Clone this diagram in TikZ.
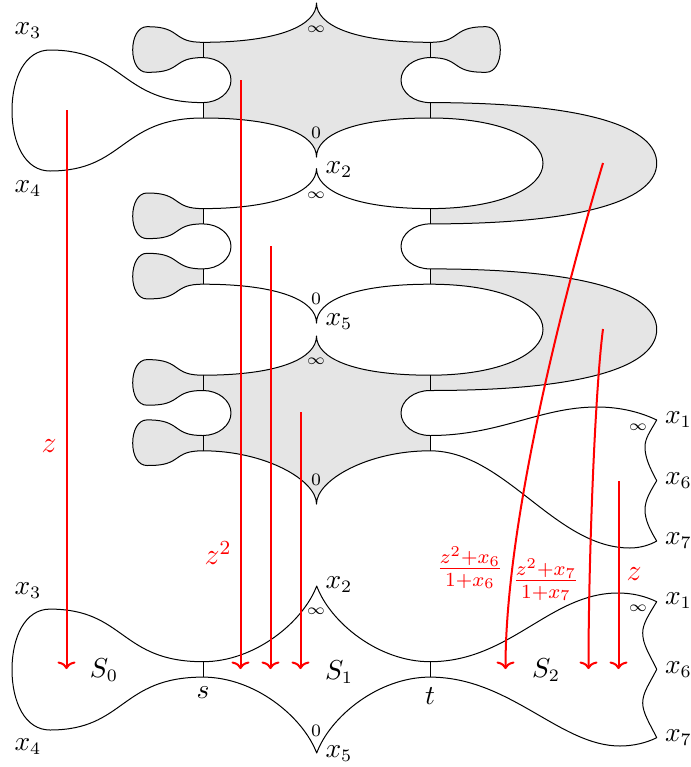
\documentclass[tikz,border=0pt]{standalone}
\usetikzlibrary{arrows.meta}
\tikzset{
  sheet/.style={draw=black,line width=0.4pt,line join=round},
  shade/.style={fill=black!10,draw=none},
  spine/.style={draw=black,line width=0.4pt},
  redline/.style={draw=red,line width=0.8pt,-{Computer Modern Rightarrow[width=7.2pt,length=3pt]}},
  lab/.style={inner sep=0pt,font=\fontsize{10.5}{13}\selectfont},
  small/.style={inner sep=0pt,font=\fontsize{7}{8}\selectfont},
  smallinf/.style={inner sep=0pt,font=\fontsize{6.5}{8}\selectfont},
  redlab/.style={inner sep=0pt,text=red,font=\fontsize{11.5}{13}\selectfont},
  blobshape/.pic={
    \path[sheet,fill=black!10] (0,0) .. controls (-15,0) and (-20,-3) .. (-27,-8)
      .. controls (-35,-14) and (-43,-15.6) .. (-56,-15.6)
      .. controls (-65,-15.6) and (-70.3,-5) .. (-70.3,7.6)
      .. controls (-70.3,20) and (-65,30) .. (-56,30)
      .. controls (-43,30) and (-35,29) .. (-27,23.3)
      .. controls (-20,18.3) and (-15,15.3) .. (0,15.3);
    \draw[spine] (0,0) -- (0,15.3);
  }
}
\begin{document}
\begin{tikzpicture}[x=0.4pt,y=-0.4pt]
\useasboundingbox (0,0) rectangle (691,767);
% grey regions
\path[shade] (203,42.3) .. controls (280,42.3) and (316.5,25) .. (316.5,3)
  .. controls (316.5,25) and (353,42.3) .. (430,42.3) -- (430,57.6)
  .. controls (414,57.6) and (401,67.7) .. (401,80.1) .. controls (401,92.4) and (414,102.6) .. (430,102.6)
  .. controls (590,102.6) and (656.7,128) .. (656.7,163.3) .. controls (656.7,198) and (590,223.9) .. (430,223.9)
  -- (430,208.6) .. controls (500,208.6) and (543,188) .. (543,163.3) .. controls (543,138) and (500,118) .. (430,118)
  .. controls (353,118) and (316.5,135) .. (316.5,157) .. controls (316.5,135) and (280,118) .. (203,118)
  -- (203,102.6) .. controls (218.4,102.6) and (231,92.4) .. (231,80.1) .. controls (231,67.7) and (218.4,57.6) .. (203,57.6) -- cycle;
\path[shade] (430,268.9) .. controls (590,268.9) and (656.7,294) .. (656.7,329.5) .. controls (656.7,365) and (590,390.5) .. (430,390.5)
  -- (430,375.2) .. controls (500,375.2) and (543,354) .. (543,329.5) .. controls (543,304) and (500,284.2) .. (430,284.2) -- cycle;
\path[shade] (203,375.2) .. controls (280,375.2) and (316.5,358) .. (316.5,336)
  .. controls (316.5,358) and (353,375.2) .. (430,375.2) -- (430,390.5)
  .. controls (414,390.5) and (401,400.6) .. (401,413) .. controls (401,425.3) and (414,435.5) .. (430,435.5) -- (430,450.8)
  .. controls (368,450.8) and (316.5,480) .. (316.5,504) .. controls (316.5,480) and (265,450.8) .. (203,450.8)
  -- (203,435.5) .. controls (218.4,435.5) and (231,425.3) .. (231,413) .. controls (231,400.6) and (218.4,390.5) .. (203,390.5) -- cycle;
% blobs with their spines
\pic at (203,42.3) {blobshape};
\pic at (203,208.6) {blobshape};
\pic at (203,268.9) {blobshape};
\pic at (203,375.2) {blobshape};
\pic at (203,435.5) {blobshape};
\pic[xscale=-1] at (430,42.3) {blobshape};
% remaining spines
\draw[spine] (203,102.6) -- (203,118);
\draw[spine] (203,268.9) -- (203,284.2);
\draw[spine] (430,102.6) -- (430,118);
\draw[spine] (430,208.6) -- (430,223.9);
\draw[spine] (430,268.9) -- (430,284.2);
\draw[spine] (430,375.2) -- (430,390.5);
\draw[spine] (430,435.5) -- (430,450.8);
\draw[spine] (203,661.7) -- (203,677.1);
\draw[spine] (430,661.7) -- (430,677.1);
% upper sheet outlines
\path[sheet] (203,42.3) .. controls (280,42.3) and (316.5,25) .. (316.5,3)
  .. controls (316.5,25) and (353,42.3) .. (430,42.3);
\path[sheet] (203,57.6) .. controls (218.4,57.6) and (231,67.7) .. (231,80.1) .. controls (231,92.4) and (218.4,102.6) .. (203,102.6)
  .. controls (120,102.6) and (125,50) .. (50,50) .. controls (25,50) and (12,78) .. (12,110.5)
  .. controls (12,143) and (25,171) .. (50,171) .. controls (125,171) and (120,118) .. (203,118)
  .. controls (280,118) and (316.5,135) .. (316.5,157) .. controls (316.5,135) and (353,118) .. (430,118)
  .. controls (500,118) and (543,138) .. (543,163.3) .. controls (543,188) and (500,208.6) .. (430,208.6)
  .. controls (353,208.6) and (316.5,190) .. (316.5,168.6) .. controls (316.5,190) and (280,208.6) .. (203,208.6);
\path[sheet] (430,57.6) .. controls (414,57.6) and (401,67.7) .. (401,80.1) .. controls (401,92.4) and (414,102.6) .. (430,102.6)
  .. controls (590,102.6) and (656.7,128) .. (656.7,163.3) .. controls (656.7,198) and (590,223.9) .. (430,223.9)
  .. controls (414,223.9) and (401,234) .. (401,246.4) .. controls (401,258.7) and (414,268.9) .. (430,268.9)
  .. controls (590,268.9) and (656.7,294) .. (656.7,329.5) .. controls (656.7,365) and (590,390.5) .. (430,390.5)
  .. controls (414,390.5) and (401,400.6) .. (401,413) .. controls (401,425.3) and (414,435.5) .. (430,435.5)
  .. controls (500,435.5) and (540,407) .. (597,407) .. controls (620,407) and (640,412) .. (656.7,420)
  .. controls (650,432) and (645,438) .. (645,447) .. controls (645,458) and (650,468) .. (656.7,480.7)
  .. controls (650,492) and (645,500) .. (645,510) .. controls (645,520) and (650,530) .. (656.7,541)
  .. controls (650,545) and (640,548) .. (630,548) .. controls (555,548) and (505,450.8) .. (430,450.8)
  .. controls (368,450.8) and (316.5,480) .. (316.5,504) .. controls (316.5,480) and (265,450.8) .. (203,450.8);
\path[sheet] (203,223.9) .. controls (218.4,223.9) and (231,234) .. (231,246.4) .. controls (231,258.7) and (218.4,268.9) .. (203,268.9);
\path[sheet] (203,284.2) .. controls (280,284.2) and (316.5,301) .. (316.5,323) .. controls (316.5,301) and (353,284.2) .. (430,284.2)
  .. controls (500,284.2) and (543,304) .. (543,329.5) .. controls (543,354) and (500,375.2) .. (430,375.2)
  .. controls (353,375.2) and (316.5,358) .. (316.5,336) .. controls (316.5,358) and (280,375.2) .. (203,375.2);
\path[sheet] (203,390.5) .. controls (218.4,390.5) and (231,400.6) .. (231,413) .. controls (231,425.3) and (218.4,435.5) .. (203,435.5);
% lower sheet
\path[sheet] (203,661.7) .. controls (120,661.7) and (125,609.1) .. (50,609.1) .. controls (25,609.1) and (12,637) .. (12,669.6)
  .. controls (12,702) and (25,730) .. (50,730) .. controls (125,730) and (120,677.1) .. (203,677.1)
  .. controls (255,677.1) and (303,717) .. (316.7,753) .. controls (330,717) and (378,677.1) .. (430,677.1)
  .. controls (510,677.1) and (560,746) .. (620,746) .. controls (633,746) and (646,743) .. (656.7,737.7)
  .. controls (650,724) and (642.7,713) .. (642.7,703) .. controls (642.7,692) and (650,683) .. (656.7,669.3)
  .. controls (650,655) and (642.7,645) .. (642.7,633) .. controls (642.7,624) and (648,616) .. (656.7,601.7)
  .. controls (645,596) and (632,593) .. (618,593) .. controls (550,593) and (510,661.7) .. (430,661.7)
  .. controls (378,661.7) and (330,622) .. (316.7,586) .. controls (303,622) and (255,661.7) .. (203,661.7);
% red maps
\coordinate (a1s) at (66.5,110);   \coordinate (a1e) at (66.5,669);
\coordinate (a2s) at (240.5,80);   \coordinate (a2e) at (240.5,669);
\coordinate (a3s) at (270.5,246);  \coordinate (a3e) at (270.5,669);
\coordinate (a4s) at (300.5,412);  \coordinate (a4e) at (300.5,669);
\coordinate (a5s) at (603,163);    \coordinate (a5e) at (505.5,669);
\coordinate (a6s) at (603,329);    \coordinate (a6e) at (588.5,669);
\coordinate (a7s) at (618.5,481);  \coordinate (a7e) at (618.5,669);
\draw[redline] (a1s) -- (a1e);
\draw[redline] (a2s) -- (a2e);
\draw[redline] (a3s) -- (a3e);
\draw[redline] (a4s) -- (a4e);
\draw[redline] (a5s) .. controls (565,290) and (505.5,520) .. (a5e);
\draw[redline] (a6s) .. controls (595,390) and (588.5,560) .. (a6e);
\draw[redline] (a7s) -- (a7e);
% labels
\node[lab] (u3) at (28,31) {$x_3$};
\node[lab] (u4) at (28,189) {$x_4$};
\node[lab] (u2) at (339,170) {$x_2$};
\node[lab] (u5) at (339,322) {$x_5$};
\node[lab] (u1) at (678.5,420) {$x_1$};
\node[lab] (u6) at (678.5,481) {$x_6$};
\node[lab] (u7) at (678.5,541) {$x_7$};
\node[lab] (l3) at (28,591) {$x_3$};
\node[lab] (l4) at (28,747) {$x_4$};
\node[lab] (l2) at (339,585) {$x_2$};
\node[lab] (l5) at (339,754) {$x_5$};
\node[lab] (l1) at (678.5,601) {$x_1$};
\node[lab] (l6) at (678.5,670) {$x_6$};
\node[lab] (l7) at (678.5,738) {$x_7$};
\node[lab] (s0) at (104,670) {$S_0$};
\node[lab] (s1) at (339,672) {$S_1$};
\node[lab] (s2) at (546,670) {$S_2$};
\node[lab] (sl) at (203,693) {$s$};
\node[lab] (tl) at (430,696) {$t$};
\node[smallinf] (i1) at (316,29) {$\infty$};
\node[smallinf] (i2) at (316,195) {$\infty$};
\node[smallinf] (i3) at (316,361) {$\infty$};
\node[smallinf] (i4) at (316,611) {$\infty$};
\node[smallinf] (i5) at (638,427) {$\infty$};
\node[smallinf] (i6) at (638,608) {$\infty$};
\node[small] (o1) at (316,133) {$0$};
\node[small] (o2) at (316,299) {$0$};
\node[small] (o3) at (316,480) {$0$};
\node[small] (o4) at (316,731) {$0$};
\node[redlab] (r1) at (49,446) {$z$};
\node[redlab] (r2) at (218,553) {$z^2$};
\node[redlab] (r3) at (470,568) {$\frac{z^2+x_6}{1+x_6}$};
\node[redlab] (r4) at (546,580) {$\frac{z^2+x_7}{1+x_7}$};
\node[redlab] (r5) at (634,574) {$z$};
\end{tikzpicture}
\end{document}
